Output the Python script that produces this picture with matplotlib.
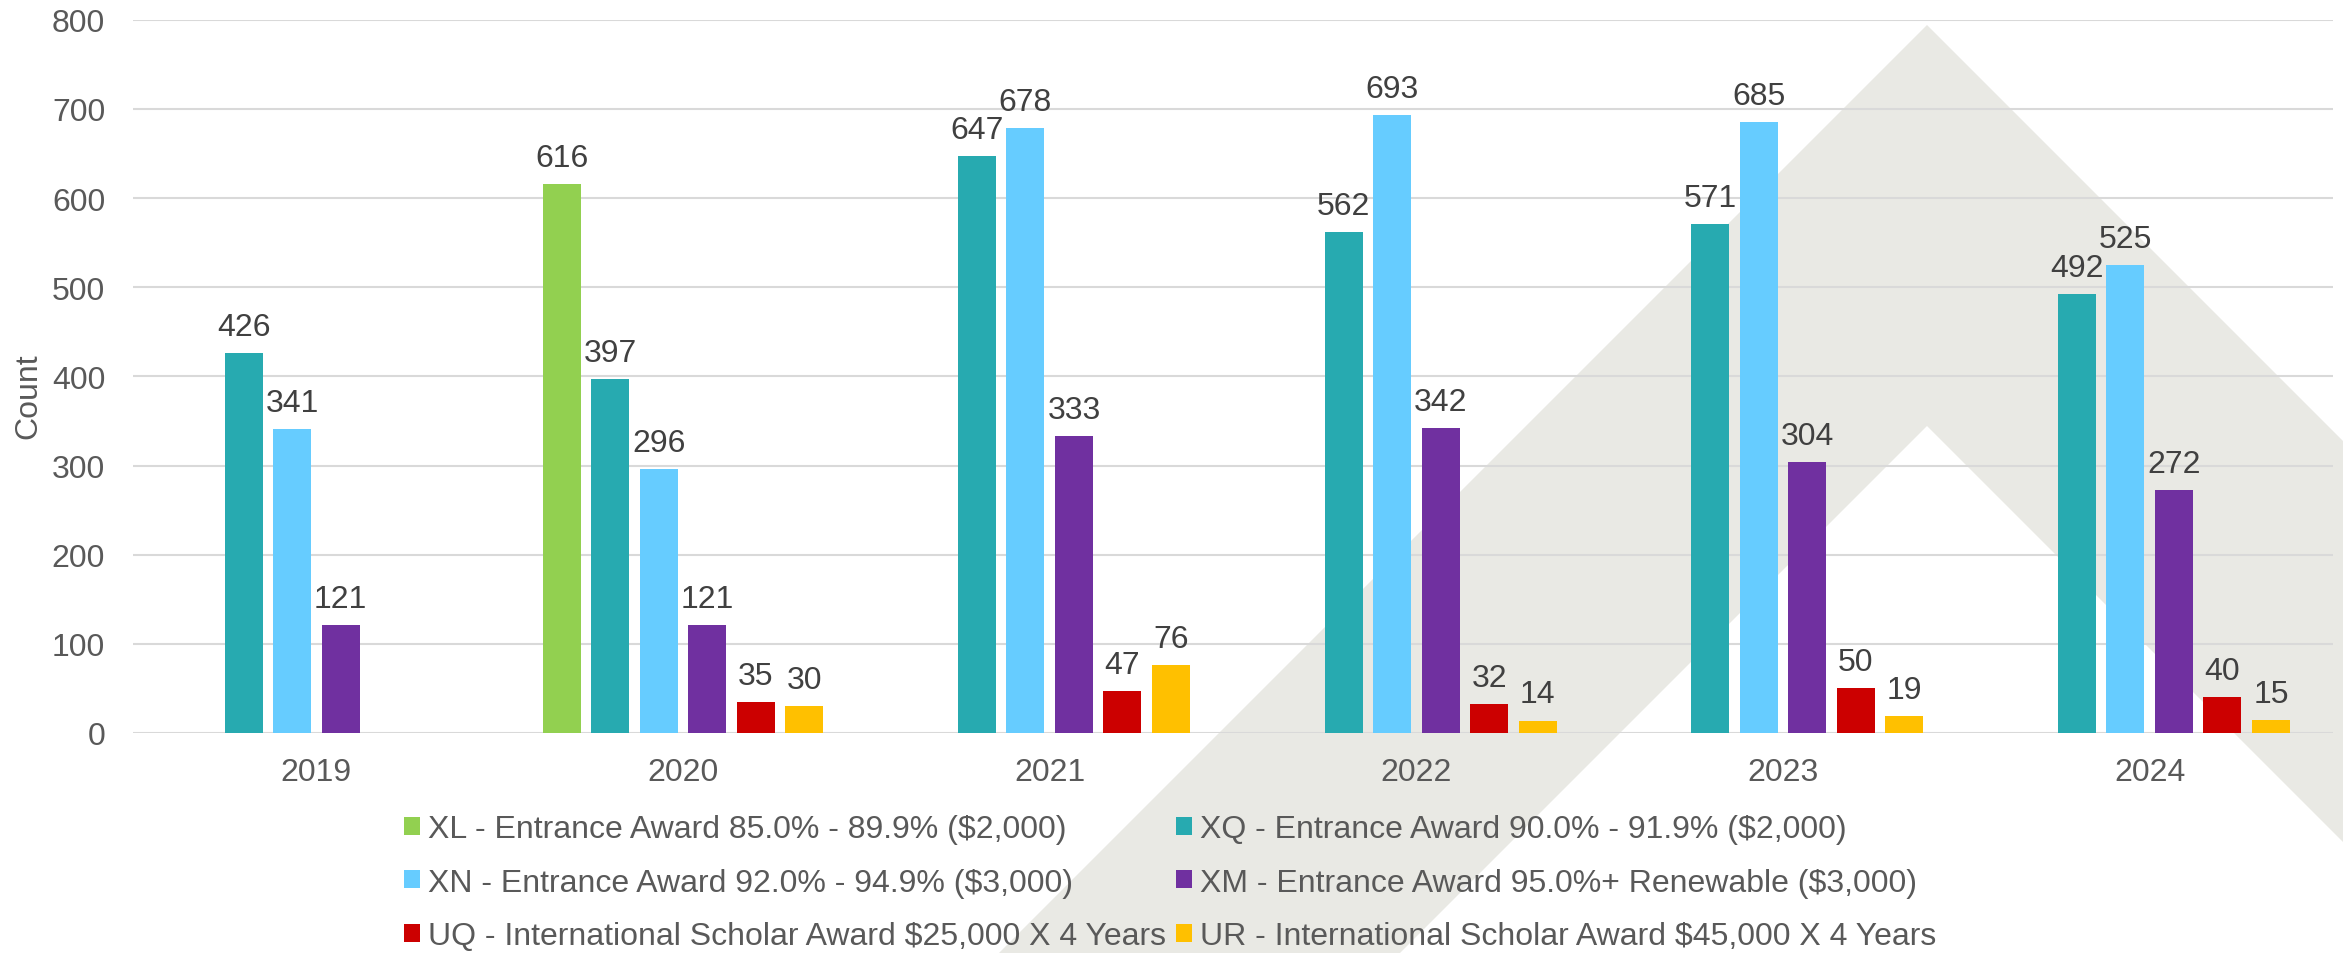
import numpy as np
import matplotlib
matplotlib.use("Agg")
import matplotlib.pyplot as plt
from matplotlib.patches import Patch, Polygon

plt.rcParams['font.family'] = ['Liberation Sans', 'DejaVu Sans']

years = ["2019", "2020", "2021", "2022", "2023", "2024"]
series_names = [
    "XL - Entrance Award 85.0% - 89.9% ($2,000)",
    "XQ - Entrance Award 90.0% - 91.9% ($2,000)",
    "XN - Entrance Award 92.0% - 94.9% ($3,000)",
    "XM - Entrance Award 95.0%+ Renewable ($3,000)",
    "UQ - International Scholar Award $25,000 X 4 Years",
    "UR - International Scholar Award $45,000 X 4 Years",
]
xl = [None, 616, None, None, None, None]
xq = [426, 397, 647, 562, 571, 492]
xn = [341, 296, 678, 693, 685, 525]
xm = [121, 121, 333, 342, 304, 272]
uq = [None, 35, 47, 32, 50, 40]
ur = [None, 30, 76, 14, 19, 15]
colors = ["#92D050", "#27AAB0", "#66CCFF", "#7030A0", "#CC0000", "#FFC000"]

W, H = 2343, 954
fig = plt.figure(figsize=(W / 100, H / 100), dpi=100)

# background chevron watermark, drawn in a full-figure axes (pixel coords, y from top)
bg = fig.add_axes([0, 0, 1, 1], zorder=-1)
bg.set_xlim(0, W)
bg.set_ylim(H, 0)
bg.axis("off")
bg.add_patch(Polygon([(999, 954), (1927, 26), (2855, 954)], closed=True,
                     facecolor="#E9E9E4", edgecolor="none"))
bg.add_patch(Polygon([(1400, 954), (1927, 427), (2454, 954)], closed=True,
                     facecolor="white", edgecolor="none"))

ax = fig.add_axes([133 / W, 1 - 734 / H, 2200 / W, (734 - 20.7) / H])
ax.patch.set_alpha(0)

x = np.arange(len(years))
pitch = 0.1323
width = 0.1036
all_series = [xl, xq, xn, xm, uq, ur]
handles = []
for i, vals in enumerate(all_series):
    v = np.array([np.nan if a is None else a for a in vals], dtype=float)
    pos = x + (i - 2.5) * pitch
    ax.bar(pos, v, width, color=colors[i], zorder=3)
    for p, val in zip(pos, v):
        if not np.isnan(val):
            ax.annotate(f"{int(val)}", (p, val), xytext=(0, 13), textcoords="offset points",
                        ha="center", va="baseline", fontsize=23, color="#404040", zorder=4)
    handles.append(Patch(facecolor=colors[i], edgecolor="none", label=series_names[i]))

ax.set_xlim(-0.5, len(years) - 0.5)
ax.set_ylim(0, 800)
ax.set_yticks(range(0, 801, 100))
ax.set_xticks(x)
ax.set_xticklabels(years)
ax.tick_params(axis="both", length=0, labelsize=23, labelcolor="#595959")
ax.tick_params(axis="x", pad=17)
ax.tick_params(axis="y", pad=20)
ax.grid(axis="y", color="#D9D9D9", linewidth=1.5, zorder=0)
ax.set_axisbelow(True)
for s in ax.spines.values():
    s.set_visible(False)

fig.text(28 / W, 1 - 396 / H, "Count", rotation=90, ha="center", va="center",
         fontsize=23, color="#595959")

order = [0, 2, 4, 1, 3, 5]
fig.legend([handles[k] for k in order], [series_names[k] for k in order],
           ncol=2, loc="upper left", bbox_to_anchor=(404 / W, 1 - 815 / H),
           frameon=False, fontsize=23, labelcolor="#595959",
           handlelength=0.5, handleheight=0.5, handletextpad=0.25,
           columnspacing=0.3, labelspacing=0.74, borderpad=0, borderaxespad=0)

fig.savefig("out.png", dpi=100, facecolor="white")
